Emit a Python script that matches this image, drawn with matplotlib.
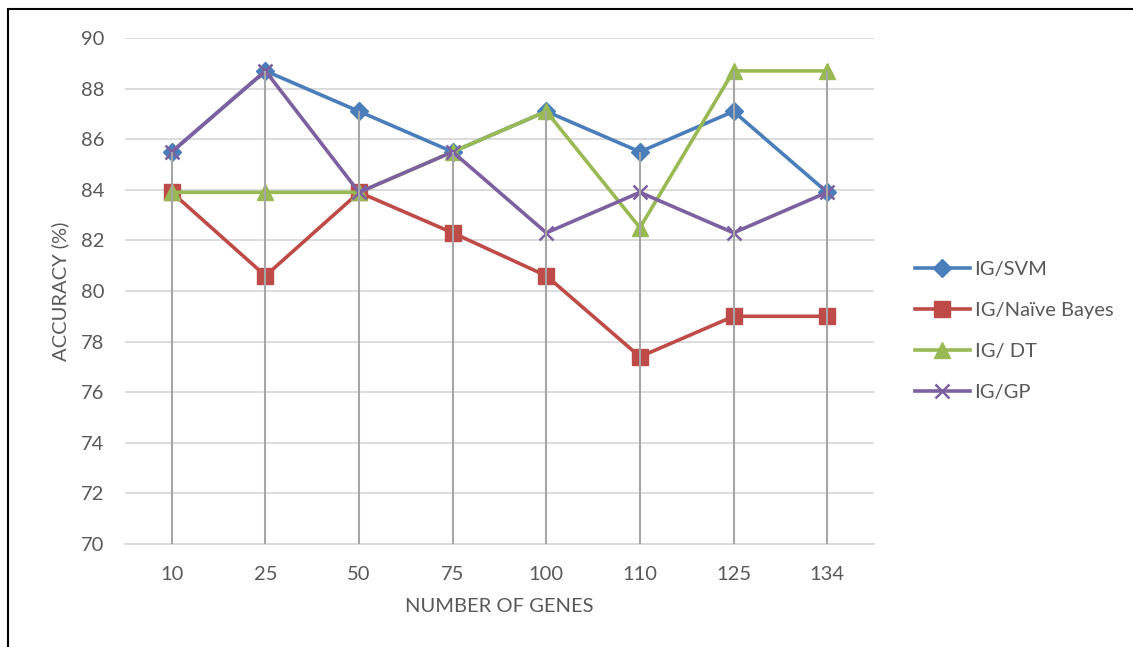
import numpy as np
import matplotlib.pyplot as plt
from matplotlib.patches import Rectangle

plt.rcParams['font.family'] = ['Lato', 'DejaVu Sans']

genes = ['10', '25', '50', '75', '100', '110', '125', '134']
svm = [85.5, 88.7, 87.1, 85.5, 87.1, 85.5, 87.1, 83.9]
nb = [83.9, 80.6, 83.9, 82.3, 80.6, 77.4, 79.0, 79.0]
dt = [83.9, 83.9, 83.9, 85.5, 87.1, 82.5, 88.7, 88.7]
gp = [85.5, 88.7, 83.9, 85.5, 82.3, 83.9, 82.3, 83.9]

txt = '#595959'
fig = plt.figure(figsize=(11.33, 6.47), dpi=100)
ax = fig.add_axes([125/1133, 1-544/647, 749/1133, 506/647])

x = np.arange(len(genes))
ax.plot(x, svm, color='#4A7EBB', lw=2.6, marker='D', ms=9, label='IG/SVM', zorder=3)
ax.plot(x, nb, color='#BE4B48', lw=2.6, marker='s', ms=11, label='IG/Naïve Bayes', zorder=3)
ax.plot(x, dt, color='#98B954', lw=2.6, marker='^', ms=11, label='IG/ DT', zorder=3)
ax.plot(x, gp, color='#7D60A0', lw=2.6, marker='x', ms=10, mew=1.8, label='IG/GP', zorder=3)

# drop lines
top = np.max([svm, nb, dt, gp], axis=0)
ax.vlines(x, 70, top, color='#A6A6A6', lw=1.5, zorder=4)

ax.set_xlim(-0.5, 7.5)
ax.set_ylim(70, 90)
ax.set_yticks(np.arange(70, 91, 2))
ax.set_xticks(x)
ax.set_xticklabels(genes)
ax.grid(axis='y', color='#D9D9D9', lw=1.3)
ax.set_axisbelow(True)
for s in ['top', 'right', 'left']:
    ax.spines[s].set_visible(False)
ax.spines['bottom'].set_color('#D9D9D9')
ax.spines['bottom'].set_linewidth(1.3)
ax.tick_params(length=0, labelsize=14.5, colors=txt)
ax.tick_params(axis='x', pad=16)
ax.tick_params(axis='y', pad=15)
ax.set_xlabel('NUMBER OF GENES', fontsize=14.5, color=txt, labelpad=11)
ax.set_ylabel('ACCURACY (%)', fontsize=14.5, color=txt, labelpad=8)

fig.legend(loc='center left', bbox_to_anchor=(897/1133, 1-331/647), frameon=False,
           fontsize=14.5, labelcolor=txt, handlelength=2.7, handletextpad=0.25,
           labelspacing=1.2)

fig.patches.append(Rectangle((8/1133, -0.1), 1.2, 1.1-9/647, transform=fig.transFigure,
                             fill=False, edgecolor='black', lw=1.5))

fig.savefig('out.png', dpi=100)
